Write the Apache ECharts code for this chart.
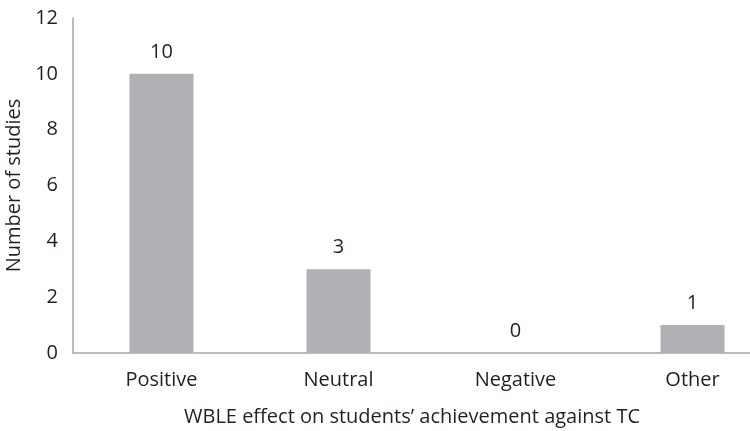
<!DOCTYPE html>
<html>
<head>
<meta charset="utf-8">
<script src="https://cdn.jsdelivr.net/npm/echarts@6/dist/echarts.min.js"></script>
<style>
  html, body { margin: 0; padding: 0; background: #ffffff; }
  #chart { width: 750px; height: 431px; }
</style>
</head>
<body>
<div id="chart"></div>
<script>
// Study outcomes by effect category
const categories = ['Positive', 'Neutral', 'Negative', 'Other'];
const studyCounts = [10, 3, 0, 1];
const yTicks = [0, 2, 4, 6, 8, 10, 12];

const textColor = '#231f20';
const fontFamily = '"Open Sans", "Noto Sans", sans-serif';
const fontSize = 20;

const chart = echarts.init(document.getElementById('chart'));
chart.setOption({
  animation: false,
  backgroundColor: '#ffffff',
  textStyle: { fontFamily: fontFamily, color: textColor },
  // the plot area runs past the right edge, so the last band is cut off
  grid: { left: 73, width: 708, top: 18, bottom: 78, containLabel: false, outerBoundsMode: 'none' },
  xAxis: {
    type: 'category',
    data: categories,
    boundaryGap: true,
    axisLine: { lineStyle: { color: '#a6a6a6', width: 1.5 } },
    axisTick: { show: false },
    axisLabel: { color: textColor, fontSize: fontSize, fontFamily: fontFamily, margin: 17 },
    name: 'WBLE effect on students\u2019 achievement against TC',
    nameLocation: 'middle',
    nameGap: 54,
    nameTextStyle: { color: textColor, fontSize: fontSize, fontFamily: fontFamily, padding: [0, 30, 0, 0] }
  },
  yAxis: {
    type: 'value',
    min: yTicks[0],
    max: yTicks[yTicks.length - 1],
    interval: yTicks[1] - yTicks[0],
    splitLine: { show: false },
    axisLine: { show: true, lineStyle: { color: '#a6a6a6', width: 1.5 } },
    axisTick: { show: false },
    axisLabel: { color: textColor, fontSize: fontSize, fontFamily: fontFamily, margin: 15 },
    name: 'Number of studies',
    nameLocation: 'middle',
    nameGap: 43,
    nameTextStyle: { color: textColor, fontSize: fontSize, fontFamily: fontFamily }
  },
  series: [{
    type: 'bar',
    data: studyCounts,
    barWidth: 64,
    itemStyle: { color: '#b0b1b4' },
    label: {
      show: true,
      position: 'top',
      distance: 12,
      color: textColor,
      fontSize: fontSize,
      fontFamily: fontFamily
    }
  }]
});
</script>
</body>
</html>
